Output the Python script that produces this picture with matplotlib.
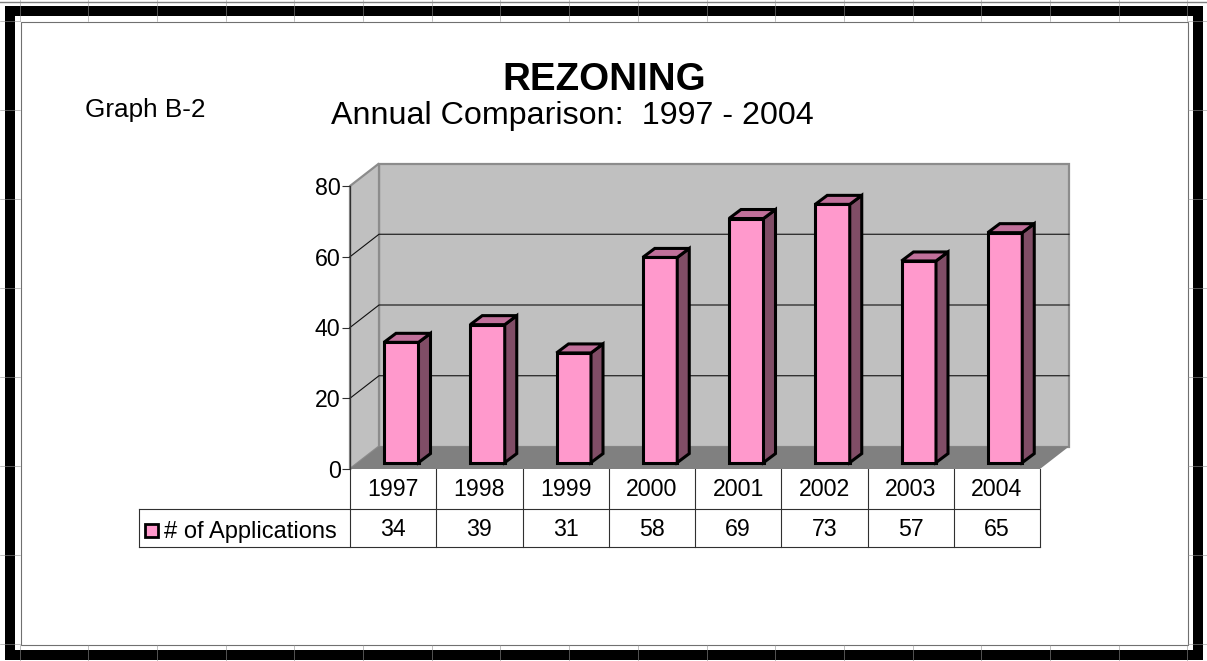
#Chart recreated from the reference picture
import matplotlib
matplotlib.use("Agg")
import matplotlib.pyplot as plt
from matplotlib.patches import Polygon, Rectangle

years = ['1997', '1998', '1999', '2000', '2001', '2002', '2003', '2004']
applications = [34, 39, 31, 58, 69, 73, 57, 65]
y_ticks = [0, 20, 40, 60, 80]
series_name = '# of Applications'

W, H = 1207, 661
PINK = '#ff99cc'
DARK_SIDE = '#804d66'
TOP_SIDE = '#c0709a'

plt.rcParams['font.family'] = ['Liberation Sans', 'DejaVu Sans']

fig = plt.figure(figsize=(W / 100, H / 100), dpi=100)

# overlay in pixel coordinates for frame and texts
bg = fig.add_axes([0, 0, 1, 1])
bg.set_xlim(0, W)
bg.set_ylim(H, 0)
bg.axis('off')

def frame_rect(x0, y0, x1, y1, **kw):
    bg.add_patch(Rectangle((x0, y0), x1 - x0, y1 - y0, **kw))

bg.plot([0, W], [1.5, 1.5], color='#808080', lw=1)
frame_rect(10, 11, 1198, 655, fill=False, ec='black', lw=7.2, joinstyle='miter')
frame_rect(20.5, 21.5, 1187.5, 644.5, fill=False, ec='#707070', lw=0.8)

# faint tile seams across the border
for x in [19.5 + 68.7 * i for i in range(18)]:
    bg.plot([x, x], [0, 21], color='#909090', lw=0.4)
    bg.plot([x, x], [645, 661], color='#909090', lw=0.4)
for y in [21 + 89 * i for i in range(8)]:
    bg.plot([0, 20], [y, y], color='#909090', lw=0.4)
    bg.plot([1188, 1207], [y, y], color='#909090', lw=0.4)

bg.text(604.5, 90, 'REZONING', ha='center', va='baseline', fontsize=27.7, fontweight='bold')
bg.text(572.5, 124, 'Annual Comparison:  1997 - 2004', ha='center', va='baseline', fontsize=23.2)
bg.text(145.5, 117, 'Graph B-2', ha='center', va='baseline', fontsize=18.8)

# plot area: category units across, values up
L, R, T, B = 350, 1040, 186, 469
ax = fig.add_axes([L / W, 1 - B / H, (R - L) / W, (B - T) / H])
ax.set_xlim(0, len(years))
ax.set_ylim(0, 80)
ax.patch.set_alpha(0)
for s in ['top', 'right', 'bottom']:
    ax.spines[s].set_visible(False)
ax.spines['left'].set_color('#303030')
ax.spines['left'].set_linewidth(0.9)
ax.spines['left'].set_zorder(3)
ax.set_xticks([])
ax.set_yticks(y_ticks)
ax.tick_params(axis='y', length=5.8, width=0.8, color='#303030', labelsize=16.7, pad=1)

n = len(years)
dx = 29 / ((R - L) / n)
dy = 22.5 / ((B - T) / 80)

# walls and floor
ax.add_patch(Polygon([(dx, dy), (n + dx, dy), (n + dx, 80 + dy), (dx, 80 + dy)],
                     fc='#c0c0c0', ec='#8c8c8c', lw=1.6, zorder=1, clip_on=False))
ax.add_patch(Polygon([(0, 0), (dx, dy), (dx, 80 + dy), (0, 80)],
                     fc='#c0c0c0', ec='#8c8c8c', lw=1.6, zorder=1, clip_on=False))
ax.add_patch(Polygon([(0, 0), (n, 0), (n + dx, dy), (dx, dy)],
                     fc='#808080', ec='none', zorder=2, clip_on=False))
for t in y_ticks[1:-1]:
    ax.plot([0, dx, n + dx], [t, t + dy, t + dy], color='#101010', lw=0.8, zorder=2, clip_on=False)

# bars with depth
bar_w = 34.5 / ((R - L) / n)
bar_off = 34 / ((R - L) / n)
base = 6.4 / ((B - T) / 80)
bdx = 12 / ((R - L) / n)
bdy = 9 / ((B - T) / 80)
for i, v in enumerate(applications):
    x0 = i + bar_off
    x1 = x0 + bar_w
    top = v + base
    style = dict(ec='black', lw=2.2, joinstyle='miter', zorder=5, clip_on=False)
    ax.add_patch(Polygon([(x0, base), (x1, base), (x1, top), (x0, top)], fc=PINK, **style))
    ax.add_patch(Polygon([(x1, base), (x1 + bdx, base + bdy), (x1 + bdx, top + bdy), (x1, top)],
                         fc=DARK_SIDE, **style))
    ax.add_patch(Polygon([(x0, top), (x1, top), (x1 + bdx, top + bdy), (x0 + bdx, top + bdy)],
                         fc=TOP_SIDE, **style))

# data table under the plot
line = dict(color='#303030', lw=0.8)
bg.plot([350, 1040], [509, 509], **line)
bg.plot([139, 1040], [547, 547], **line)
bg.plot([139, 350], [509, 509], **line)
bg.plot([139, 139], [509, 547], **line)
for i in range(n + 1):
    x = L + i * (R - L) / n
    bg.plot([x, x], [469, 547], **line)
for i in range(n):
    x = L + (i + 0.5) * (R - L) / n
    bg.text(x, 496, years[i], ha='center', va='baseline', fontsize=16.7)
    bg.text(x, 536.5, str(applications[i]), ha='center', va='baseline', fontsize=16.7)

bg.add_patch(Rectangle((144.5, 524), 13, 13, fc=PINK, ec='black', lw=2))
bg.text(164, 538, series_name, ha='left', va='baseline', fontsize=17)

fig.savefig('out.png', dpi=100)
